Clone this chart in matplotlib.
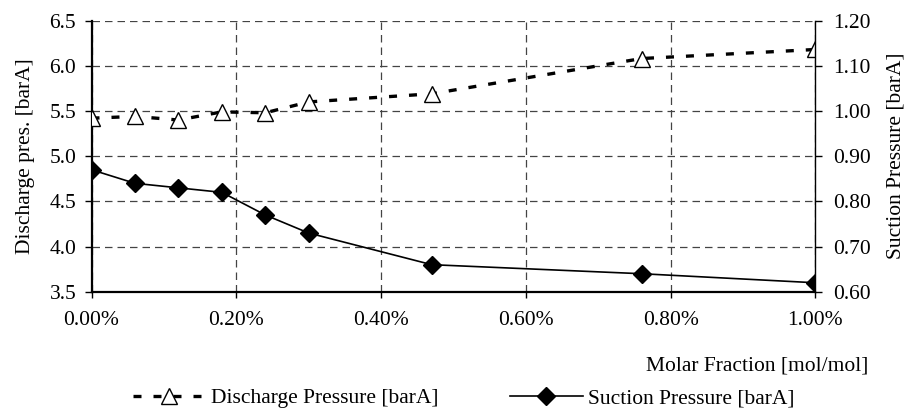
import matplotlib
matplotlib.use("Agg")
import matplotlib.pyplot as plt
from matplotlib.ticker import FuncFormatter, MultipleLocator

plt.rcParams['font.family'] = ['Liberation Serif', 'DejaVu Serif']

molar_fraction = [0.00, 0.06, 0.12, 0.18, 0.24, 0.30, 0.47, 0.76, 1.00]  # %
discharge = [5.42, 5.44, 5.40, 5.49, 5.48, 5.60, 5.69, 6.08, 6.18]
suction = [0.87, 0.84, 0.83, 0.82, 0.77, 0.73, 0.66, 0.64, 0.62]

fig = plt.figure(figsize=(9.06, 4.11), dpi=100)
ax = fig.add_axes([0.101, 0.290, 0.799, 0.660])
ax2 = ax.twinx()

fs = 15.5
ax.plot(molar_fraction, discharge, color='black', lw=2.4, ls=(0, (2.4, 3.6)),
        marker='^', ms=11, mfc='white', mec='black', mew=1.0, zorder=5,
        label='Discharge Pressure [barA]')
ax2.plot(molar_fraction, suction, color='black', lw=1.2, ls='-',
         marker='D', ms=9, mfc='black', mec='black', zorder=5,
         label='Suction Pressure [barA]')

ax.set_xlim(0, 1.0)
ax.set_ylim(3.5, 6.5)
ax2.set_ylim(0.60, 1.20)
ax.xaxis.set_major_locator(MultipleLocator(0.2))
ax.yaxis.set_major_locator(MultipleLocator(0.5))
ax2.yaxis.set_major_locator(MultipleLocator(0.1))
ax.xaxis.set_major_formatter(FuncFormatter(lambda v, p: f"{v:.2f}%"))
ax.yaxis.set_major_formatter(FuncFormatter(lambda v, p: f"{v:.1f}"))
ax2.yaxis.set_major_formatter(FuncFormatter(lambda v, p: f"{v:.2f}"))

ax.grid(True, color='#444444', ls=(0, (6, 4)), lw=0.9)
ax.set_axisbelow(True)

ax.tick_params(axis='y', direction='out', length=5, width=1, labelsize=fs, pad=6)
ax.tick_params(axis='x', direction='out', length=4, width=1, labelsize=fs, pad=9.5)
ax2.tick_params(axis='y', direction='out', length=5, width=1, labelsize=fs, pad=8)

ax.spines['top'].set_visible(False)
ax2.spines['top'].set_visible(False)
ax2.spines['left'].set_visible(False)
ax2.spines['bottom'].set_visible(False)
ax.spines['right'].set_visible(False)
ax.spines['left'].set_linewidth(1.6)
ax.spines['bottom'].set_linewidth(1.6)
ax2.spines['right'].set_linewidth(1.0)

ax.set_ylabel('Discharge pres. [barA]', fontsize=fs, labelpad=10)
ax2.set_ylabel('Suction Pressure [barA]', fontsize=fs, labelpad=11)
fig.text(868/906, 1 - 366/411, 'Molar Fraction [mol/mol]', fontsize=fs,
         ha='right', va='center')

h1, l1 = ax.get_legend_handles_labels()
h2, l2 = ax2.get_legend_handles_labels()
fig.legend(h1 + h2, l1 + l2, loc='center', bbox_to_anchor=(0.512, 1 - 398/411),
           ncol=2, frameon=False, fontsize=fs, handlelength=3.4,
           columnspacing=3.3, handletextpad=0.25, borderpad=0)

fig.savefig('out.png', dpi=100)
